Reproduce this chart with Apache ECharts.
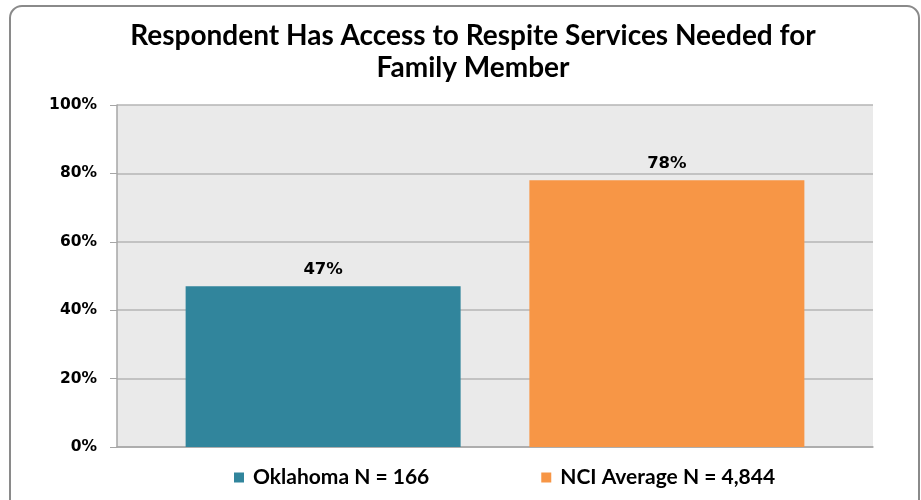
<!DOCTYPE html>
<html>
<head>
<meta charset="utf-8">
<script src="https://cdn.jsdelivr.net/npm/echarts@6/dist/echarts.min.js"></script>
<style>
  html, body { margin: 0; padding: 0; background: #fff; }
  #chart { width: 921px; height: 500px; }
</style>
</head>
<body>
<div id="chart"></div>
<script>
const seriesNames = ["Oklahoma N = 166", "NCI Average N = 4,844"];
const seriesValues = [47, 78];
const seriesColors = ["#31859C", "#F79646"];
const yTicks = [0, 20, 40, 60, 80, 100];

const chart = echarts.init(document.getElementById("chart"));

chart.setOption({
  animation: false,
  title: {
    text: "Respondent Has Access to Respite Services Needed for\nFamily Member",
    left: 468,
    textAlign: "center",
    top: 15,
    textStyle: {
      fontFamily: "Lato",
      fontSize: 28,
      fontWeight: "bold",
      color: "#000",
      lineHeight: 32,
    },
  },
  legend: {
    bottom: 7,
    left: 229,
    itemGap: 112,
    itemWidth: 10,
    itemHeight: 10,
    icon: "rect",
    data: seriesNames,
    textStyle: {
      fontFamily: "Lato",
      fontSize: 21,
      fontWeight: "bold",
      color: "#000",
      padding: [0, 0, 0, 4],
    },
  },
  graphic: [
    {
      type: "rect",
      shape: { x: 10, y: 6, width: 909, height: 510, r: 12 },
      style: { fill: "none", stroke: "#8a8a8a", lineWidth: 2 },
      z: -1,
    },
  ],
  grid: {
    left: 117,
    right: 48,
    top: 105,
    bottom: 53,
    show: true,
    backgroundColor: "#EAEAEA",
    borderWidth: 0,
  },
  xAxis: {
    type: "category",
    data: [""],
    axisTick: { show: false },
    axisLabel: { show: false },
    axisLine: { lineStyle: { color: "#A6A6A6", width: 1.5 } },
  },
  yAxis: {
    type: "value",
    min: yTicks[0],
    max: yTicks[yTicks.length - 1],
    interval: 20,
    axisLine: { show: true, lineStyle: { color: "#A6A6A6", width: 1.5 } },
    axisTick: { show: true, length: 7, lineStyle: { color: "#A6A6A6" } },
    splitLine: { lineStyle: { color: "#B4B4B4", width: 1.5 } },
    axisLabel: {
      formatter: "{value}%",
      margin: 20,
      fontFamily: "DejaVu Sans",
      fontSize: 15.5,
      fontWeight: "bold",
      color: "#000",
    },
  },
  series: seriesNames.map((name, i) => ({
    name: name,
    type: "bar",
    data: [seriesValues[i]],
    barWidth: 275,
    barGap: "25%",
    itemStyle: { color: seriesColors[i] },
    label: {
      show: true,
      position: "top",
      distance: 8,
      formatter: "{c}%",
      fontFamily: "DejaVu Sans",
      fontSize: 16.5,
      fontWeight: "bold",
      color: "#000",
    },
  })),
});
</script>
</body>
</html>
